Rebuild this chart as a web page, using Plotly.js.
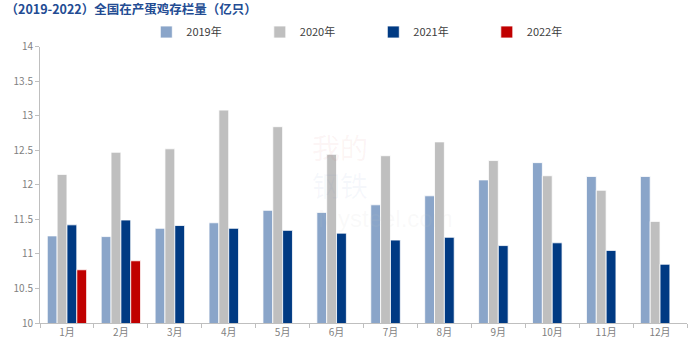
<!DOCTYPE html>
<html>
<head>
<meta charset="utf-8">
<script src="https://cdn.plot.ly/plotly-3.0.1.min.js"></script>
<style>html,body{margin:0;padding:0;background:#fff;}#chart{width:700px;height:356px;}</style>
</head>
<body>
<div id="chart"></div>
<script>
const months = ['1月','2月','3月','4月','5月','6月','7月','8月','9月','10月','11月','12月'];
const y2019 = [11.26, 11.25, 11.37, 11.45, 11.63, 11.60, 11.71, 11.84, 12.07, 12.32, 12.12, 12.12];
const y2020 = [12.15, 12.47, 12.52, 13.08, 12.84, 12.44, 12.42, 12.62, 12.35, 12.13, 11.92, 11.47];
const y2021 = [11.42, 11.49, 11.41, 11.37, 11.34, 11.30, 11.20, 11.24, 11.12, 11.16, 11.05, 10.85];
const y2022 = [10.77, 10.90, null, null, null, null, null, null, null, null, null, null];
const seriesNames = ['2019年','2020年','2021年','2022年'];
const colors = ['#8AA5C9','#BFBFBF','#003A83','#C00000'];
const yTicks = [10, 10.5, 11, 11.5, 12, 12.5, 13, 13.5, 14];

const font = 'Microsoft YaHei, "Noto Sans CJK SC", "Liberation Sans", sans-serif';
const allSeries = [y2019, y2020, y2021, y2022];
const traces = allSeries.map((vals, i) => ({
  type: 'bar',
  name: seriesNames[i],
  x: months,
  y: vals,
  marker: {color: colors[i], line: {color: '#ffffff', width: 0.8}},
  hoverinfo: 'x+y+name'
}));

const px2x = px => (px - 40) / 647;
const px2y = py => 1 - (py - 40) / 283;

const layout = {
  width: 700, height: 356,
  margin: {l: 40, r: 13, t: 40, b: 33},
  paper_bgcolor: '#ffffff', plot_bgcolor: '#ffffff',
  barmode: 'group', bargap: 0.27, bargroupgap: 0,
  showlegend: true,
  legend: {orientation: 'h', xref: 'container', yref: 'container',
    x: 0.209, xanchor: 'left', y: 1 - 32/356, yanchor: 'middle',
    font: {family: font, size: 11, color: '#404040'}, itemwidth: 30,
    traceorder: 'normal', entrywidth: 68.5, entrywidthmode: 'pixels',
    bgcolor: 'rgba(0,0,0,0)'},
  title: {text: '（2019-2022）全国在产蛋鸡存栏量（亿只）', x: 0.008, xanchor: 'left', y: 0.972, yanchor: 'middle',
    font: {family: font, size: 12.5, color: '#234C93', weight: 'bold'}},
  xaxis: {
    type: 'category', showgrid: false, zeroline: false,
    showline: true, linecolor: '#BFBFBF', linewidth: 1,
    ticks: 'outside', tickson: 'boundaries', ticklen: 4, tickcolor: '#BFBFBF',
    tickfont: {family: font, size: 10, color: '#7F7F7F'}
  },
  yaxis: {
    range: [10, 14], tickvals: yTicks, ticktext: yTicks.map(String),
    showgrid: false, zeroline: false,
    showline: true, linecolor: '#BFBFBF', linewidth: 1,
    ticks: 'outside', ticklen: 4, tickcolor: '#BFBFBF',
    tickfont: {family: font, size: 10, color: '#7F7F7F'}
  },
  annotations: [
    {text: '我的', xref: 'paper', yref: 'paper', x: px2x(340), y: px2y(143), showarrow: false,
     font: {family: font, size: 28, color: 'rgba(220,110,110,0.07)'}},
    {text: '钢铁', xref: 'paper', yref: 'paper', x: px2x(340), y: px2y(182), showarrow: false,
     font: {family: font, size: 28, color: 'rgba(110,130,200,0.06)'}},
    {text: 'Mysteel.com', xref: 'paper', yref: 'paper', x: px2x(385), y: px2y(216), showarrow: false,
     font: {family: 'Liberation Sans, sans-serif', size: 24, color: 'rgba(200,200,200,0.10)'}}
  ]
};

Plotly.newPlot('chart', traces, layout, {displayModeBar: false, staticPlot: true});
</script>
</body>
</html>
